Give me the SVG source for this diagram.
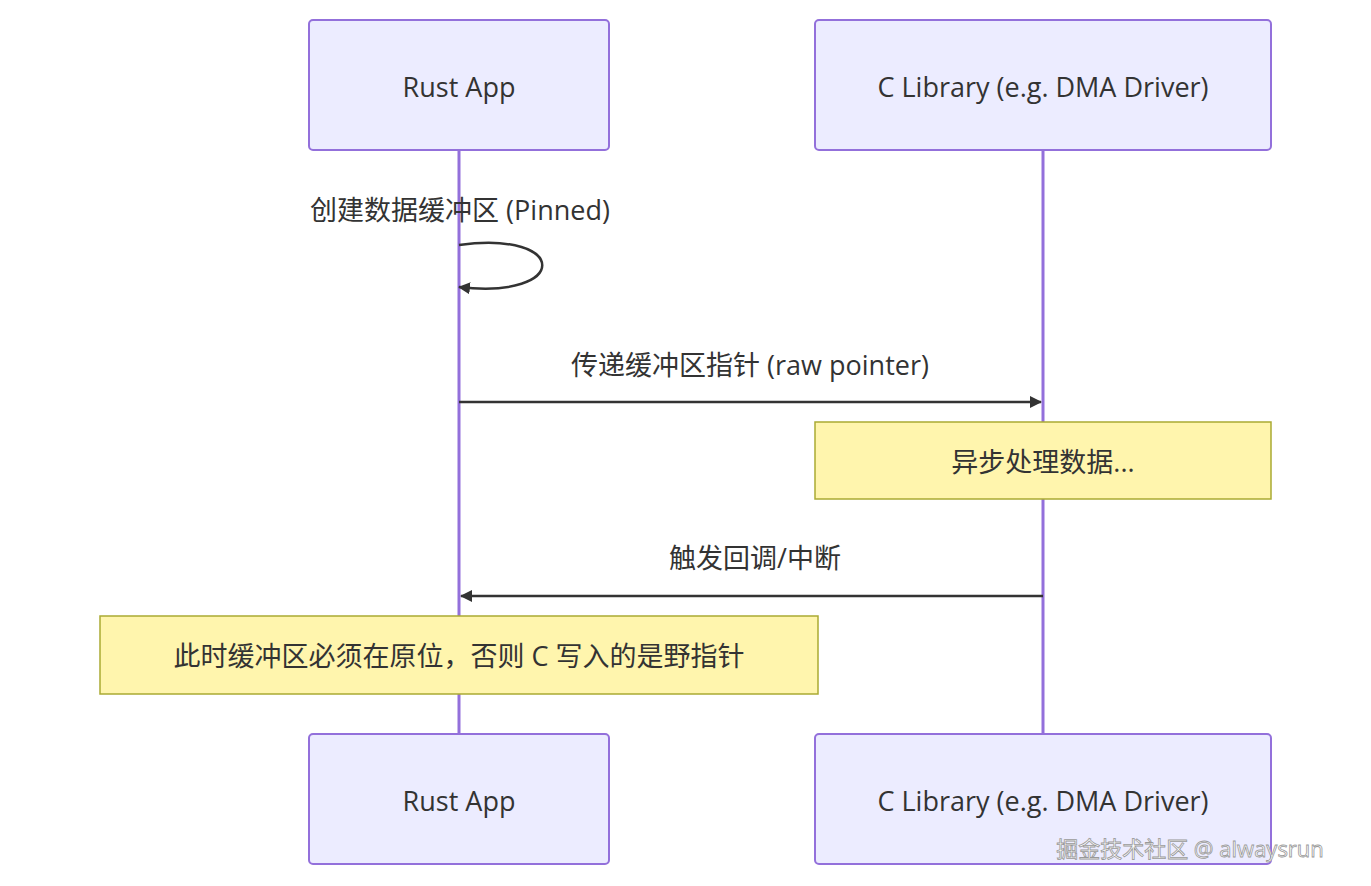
<svg xmlns="http://www.w3.org/2000/svg" width="1371" height="886" viewBox="0 0 1371 886">
<style>
.actor{fill:#ececff;stroke:#9370db;stroke-width:2}
.note{fill:#fff5ad;stroke:#aaaa33;stroke-width:1.5}
.life{stroke:#9370db;stroke-width:3}
.msg{stroke:#333;stroke-width:2.5;fill:none}
text{font-family:"Open Sans","Noto Sans","Noto Sans CJK SC",sans-serif;font-size:27px;fill:#333;text-anchor:middle;dominant-baseline:central}
</style>
<defs><marker id="ah" markerWidth="12" markerHeight="12" refX="11" refY="6" orient="auto" markerUnits="userSpaceOnUse" viewBox="0 0 12 12"><path d="M0,0 L12,6 L0,12 z" fill="#333"/></marker></defs>
<g id="lifelines"><line class="life" x1="459" y1="150" x2="459" y2="734"/><line class="life" x1="1043" y1="150" x2="1043" y2="734"/></g>
<g id="rust_top"><rect class="actor" x="309" y="20" width="300" height="130" rx="4"/><text x="459" y="86">Rust App</text></g>
<g id="c_top"><rect class="actor" x="815" y="20" width="456" height="130" rx="4"/><text x="1043" y="86">C Library (e.g. DMA Driver)</text></g>
<g id="rust_bottom"><rect class="actor" x="309" y="734" width="300" height="130" rx="4"/><text x="459" y="800">Rust App</text></g>
<g id="c_bottom"><rect class="actor" x="815" y="734" width="456" height="130" rx="4"/><text x="1043" y="800">C Library (e.g. DMA Driver)</text></g>
<g id="connectors">
<path class="msg" d="M459,245 C570,230 570,300 459,287" marker-end="url(#ah)"/>
<text x="460" y="209">创建数据缓冲区 (Pinned)</text>
<line class="msg" x1="459" y1="402" x2="1041" y2="402" marker-end="url(#ah)"/>
<text x="750" y="364">传递缓冲区指针 (raw pointer)</text>
<line class="msg" x1="1043" y1="596" x2="461" y2="596" marker-end="url(#ah)"/>
<text x="755" y="557">触发回调/中断</text>
</g>
<g id="note1"><rect class="note" x="815" y="422" width="456" height="77"/><text x="1043" y="461">异步处理数据...</text></g>
<g id="note2"><rect class="note" x="100" y="616" width="718" height="78"/><text x="459" y="655">此时缓冲区必须在原位，否则 C 写入的是野指针</text></g>
<text x="1190" y="848" style="font-size:22px;fill:#fff;stroke:#999;stroke-width:0.8">掘金技术社区 @ alwaysrun</text>
</svg>
